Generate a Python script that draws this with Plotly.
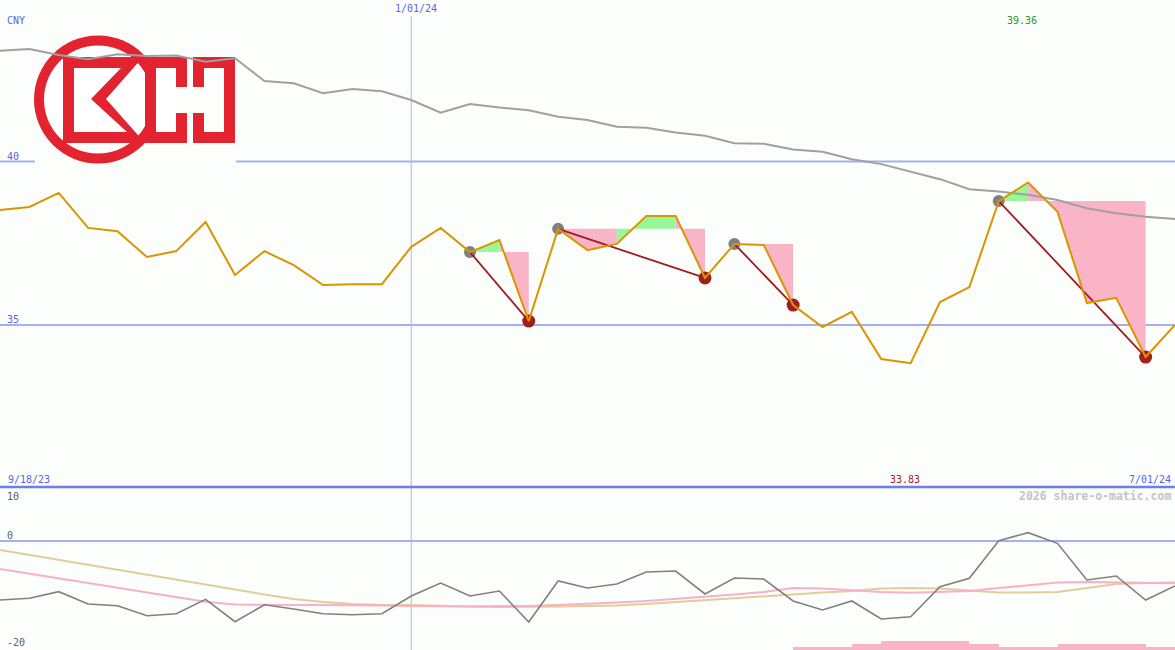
import plotly.graph_objects as go
import pandas as pd

W, H = 1175, 650

# ---------------- data ----------------
dates = pd.date_range("2023-09-25", "2024-07-01", freq="7D")

close = [38.52, 38.61, 39.04, 37.97, 37.87, 37.08, 37.26, 38.15, 36.53, 37.26,
         36.83, 36.22, 36.25, 36.25, 37.39, 37.97, 37.23, 37.60, 35.12, 37.94,
         37.29, 37.48, 38.33, 38.33, 36.44, 37.48, 37.45, 35.61, 34.94, 35.40,
         33.96, 33.83, 35.70, 36.16, 38.79, 39.36, 38.46, 35.67, 35.83, 34.02,
         35.00]

ma = [43.39, 43.44, 43.26, 43.13, 43.28, 43.23, 43.24, 43.05, 43.16, 42.46,
      42.39, 42.09, 42.22, 42.15, 41.88, 41.49, 41.76, 41.65, 41.57, 41.37,
      41.27, 41.06, 41.03, 40.89, 40.79, 40.56, 40.54, 40.37, 40.30, 40.07,
      39.92, 39.69, 39.46, 39.15, 39.08, 38.98, 38.82, 38.57, 38.42, 38.31,
      38.24]

osc = [-10.93, -10.61, -9.39, -11.67, -11.98, -13.83, -13.46, -10.80, -14.94, -11.80,
       -12.59, -13.46, -13.65, -13.46, -10.19, -7.78, -10.19, -9.26, -15.00, -7.41,
       -8.70, -7.96, -5.74, -5.56, -9.81, -6.85, -7.04, -11.11, -12.78, -11.11,
       -14.44, -14.02, -8.46, -6.91, 0.06, 1.54, -0.43, -7.22, -6.48, -10.93,
       -8.33]

osc_fast = [-5.19, -6.06, -6.91, -7.78, -8.65, -9.52, -10.37, -11.24, -11.76, -11.85,
            -11.85, -11.85, -11.85, -11.94, -12.04, -12.13, -12.13, -12.04, -12.04, -11.85,
            -11.67, -11.39, -11.11, -10.74, -10.37, -9.91, -9.44, -8.70, -8.80, -9.07,
            -9.44, -9.57, -9.39, -9.26, -8.70, -8.24, -7.69, -7.59, -7.69, -7.83,
            -7.83]

osc_slow = [-1.67, -2.59, -3.52, -4.44, -5.37, -6.30, -7.22, -8.15, -9.07, -9.91,
            -10.74, -11.30, -11.67, -11.85, -11.85, -12.04, -12.13, -12.22, -12.22, -12.13,
            -12.04, -11.94, -11.67, -11.30, -10.93, -10.56, -10.19, -9.81, -9.54, -9.26,
            -8.80, -8.70, -8.80, -9.17, -9.54, -9.54, -9.44, -8.70, -7.96, -7.78,
            -7.69]

bar_start = 27
bar_heights = [0.5, 0.5, 1.17, 1.67, 1.67, 1.67, 1.17, 0.5, 0.5, 1.17, 1.17, 1.17, 0.5]

peaks = [16, 19, 25, 34]
troughs = [18, 24, 27, 39]

top_grid = [40, 35]
high_label, low_label = "39.36", "33.83"

# ---------------- styling ----------------
BG = "#fbfefb"
ORANGE = "#da9500"
PINK = "#f9b4c8"
GREEN = "#98f898"
GRID = "#a5b0f0"
BLUE_TXT = "#5a64e6"
LOGO_RED = "#e3232f"
FONT = "DejaVu Sans Mono"

TOP_Y0, TOP_Y1 = 30.046, 44.939
BOT_Y0, BOT_Y1 = -20.185, 10.0
split = 1 - 487 / H

fig = go.Figure()

# pattern fills: runs of segments with the same colour merged into one polygon
for p, t in zip(peaks, troughs):
    level = close[p]
    i = p
    while i < t:
        up = close[i + 1] > level
        j = i + 1
        while j < t and (close[j + 1] > level) == up:
            j += 1
        xs = [dates[i]] + [dates[k] for k in range(i, j + 1)] + [dates[j], dates[i]]
        ys = [level] + [close[k] for k in range(i, j + 1)] + [level, level]
        fig.add_trace(go.Scatter(
            x=xs, y=ys, mode="lines", line=dict(width=0), fill="toself",
            fillcolor=GREEN if up else PINK, hoverinfo="skip", xaxis="x", yaxis="y"))
        i = j

# moving average
fig.add_trace(go.Scatter(x=dates, y=ma, mode="lines",
                         line=dict(color="#a0a0a0", width=2), xaxis="x", yaxis="y"))

# markers
fig.add_trace(go.Scatter(x=[dates[i] for i in peaks], y=[close[i] for i in peaks],
                         mode="markers", marker=dict(size=12, color="#808080"),
                         xaxis="x", yaxis="y"))
fig.add_trace(go.Scatter(x=[dates[i] for i in troughs], y=[close[i] for i in troughs],
                         mode="markers", marker=dict(size=13, color="#a01e1e"),
                         xaxis="x", yaxis="y"))
for p, t in zip(peaks, troughs):
    fig.add_trace(go.Scatter(x=[dates[p], dates[t]], y=[close[p], close[t]], mode="lines",
                             line=dict(color="#a01c1c", width=1.8), xaxis="x", yaxis="y"))

# close price
fig.add_trace(go.Scatter(x=dates, y=close, mode="lines",
                         line=dict(color=ORANGE, width=2), xaxis="x", yaxis="y"))

# lower panel
bar_x = [dates[bar_start + k] + pd.Timedelta(days=3.5) for k in range(len(bar_heights))]
fig.add_trace(go.Bar(x=bar_x, y=bar_heights, base=BOT_Y0, width=7 * 24 * 3600 * 1000,
                     marker=dict(color=PINK, line=dict(width=0)), xaxis="x2", yaxis="y2"))
fig.add_trace(go.Scatter(x=dates, y=osc_slow, mode="lines",
                         line=dict(color="#e3cb9a", width=2), xaxis="x2", yaxis="y2"))
fig.add_trace(go.Scatter(x=dates, y=osc_fast, mode="lines",
                         line=dict(color="#f8b0c8", width=2), xaxis="x2", yaxis="y2"))
fig.add_trace(go.Scatter(x=dates, y=osc, mode="lines",
                         line=dict(color="#808080", width=1.6), xaxis="x2", yaxis="y2"))


def px(x):
    return x / W


def py(y):
    return 1 - y / H


shapes = []
for v in top_grid:
    shapes.append(dict(type="line", xref="paper", yref="y", x0=0, x1=1, y0=v, y1=v,
                       line=dict(color=GRID, width=2), layer="below"))
shapes.append(dict(type="line", xref="paper", yref="y2", x0=0, x1=1, y0=0, y1=0,
                   line=dict(color=GRID, width=2), layer="below"))
shapes.append(dict(type="line", xref="x", yref="paper", x0=pd.Timestamp("2024-01-01"),
                   x1=pd.Timestamp("2024-01-01"), y0=0, y1=py(16),
                   line=dict(color="#aab4f4", width=1), layer="below"))
shapes.append(dict(type="line", xref="paper", yref="paper", x0=0, x1=1, y0=py(487), y1=py(487),
                   line=dict(color="#6e7eee", width=2.5), layer="below"))

# logo
def rect(x0, y0, x1, y1, color):
    return dict(type="rect", xref="paper", yref="paper", x0=px(x0), x1=px(x1),
                y0=py(y1), y1=py(y0), fillcolor=color, line=dict(width=0), layer="below")


def circ(cx, cy, r, color):
    return dict(type="circle", xref="paper", yref="paper", x0=px(cx - r), x1=px(cx + r),
                y0=py(cy + r), y1=py(cy - r), fillcolor=color, line=dict(width=0), layer="below")


def path(pts_list, color):
    d = ""
    for pts in pts_list:
        d += "M " + " L ".join(f"{px(x):.5f},{py(y):.5f}" for x, y in pts) + " Z "
    return dict(type="path", xref="paper", yref="paper", path=d, fillcolor=color,
                line=dict(width=0), layer="below")


shapes.append(rect(35, 35, 236, 165, BG))
shapes.append(circ(98, 99.5, 64, LOGO_RED))
shapes.append(circ(98, 99.5, 54, "#ffffff"))
shapes.append(rect(156, 68, 177, 132, "#ffffff"))
outer = [(63, 57), (143, 57), (106, 99), (145, 143), (63, 143)]
inner = [(74, 68), (74, 132), (127, 132), (91, 99), (121, 68)]
shapes.append(path([outer, inner], LOGO_RED))
# C bracket
shapes += [rect(145, 57, 156, 143, LOGO_RED), rect(145, 57, 187, 68, LOGO_RED),
           rect(145, 132, 187, 143, LOGO_RED), rect(176, 57, 187, 87, LOGO_RED),
           rect(176, 113, 187, 143, LOGO_RED)]
# reverse bracket
shapes += [rect(224, 57, 235, 143, LOGO_RED), rect(193, 57, 235, 68, LOGO_RED),
           rect(193, 132, 235, 143, LOGO_RED), rect(193, 57, 204, 87, LOGO_RED),
           rect(193, 113, 204, 143, LOGO_RED)]

annotations = []


def label(text, x, y, color, size=10, xanchor="left", bold=False):
    annotations.append(dict(text=f"<b>{text}</b>" if bold else text, xref="paper", yref="paper",
                            x=px(x), y=py(y), xanchor=xanchor, yanchor="middle",
                            showarrow=False, font=dict(family=FONT, size=size, color=color)))


label("CNY", 5, 20, BLUE_TXT)
label("40", 5, 156, BLUE_TXT)
label("35", 5, 319, BLUE_TXT)
label("1/01/24", 415.5, 9, BLUE_TXT, xanchor="center")
label(high_label, 1021.5, 21, "#2a9a2a", xanchor="center")
label("9/18/23", 6, 479, BLUE_TXT)
label(low_label, 904.5, 479, "#a01e1e", xanchor="center")
label("7/01/24", 1173, 479, BLUE_TXT, xanchor="right")
label("2026 share-o-matic.com", 1173, 496, "#c4c4c4", size=11.5, xanchor="right", bold=True)
label("10", 5, 496, "#606060")
label("0", 5, 535, "#606060")
label("-20", 5, 642, "#606060")

fig.update_layout(
    width=W, height=H, margin=dict(l=0, r=0, t=0, b=0),
    paper_bgcolor=BG, plot_bgcolor=BG, showlegend=False, bargap=0,
    xaxis=dict(range=[dates[0], dates[-1]], visible=False, domain=[0, 1]),
    xaxis2=dict(range=[dates[0], dates[-1]], visible=False, domain=[0, 1], anchor="y2",
                matches="x"),
    yaxis=dict(range=[TOP_Y0, TOP_Y1], domain=[split, 1], visible=False),
    yaxis2=dict(range=[BOT_Y0, BOT_Y1], domain=[0, split], visible=False, anchor="x2"),
    shapes=shapes, annotations=annotations,
)

fig.write_html("out.html",
               config={"displayModeBar": False},
               post_script="document.body.style.margin='0px';document.body.style.overflow='hidden';")
